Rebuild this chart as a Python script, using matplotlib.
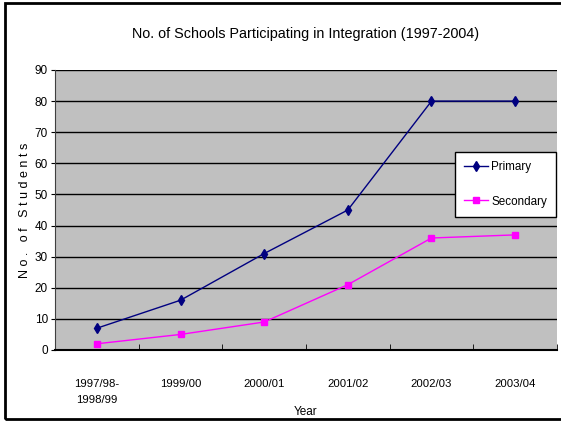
import matplotlib
matplotlib.use("Agg")
import matplotlib.pyplot as plt
from matplotlib import font_manager
from matplotlib.patches import Rectangle

categories = ["1997/98-\n1998/99", "1999/00", "2000/01", "2001/02", "2002/03", "2003/04"]
primary = [7, 16, 31, 45, 80, 80]
secondary = [2, 5, 9, 21, 36, 37]

names = {f.name for f in font_manager.fontManager.ttflist}
fam = "Liberation Sans Narrow" if "Liberation Sans Narrow" in names else "Liberation Sans"
plt.rcParams['font.family'] = [fam, 'DejaVu Sans']

fig = plt.figure(figsize=(5.61, 4.21), dpi=100)
ax = fig.add_axes([55/561, 1-350/421, 502/561, 280/421])
ax.set_facecolor("#C0C0C0")

x = list(range(len(categories)))
ax.plot(x, primary, color="#000080", marker="d", markersize=5.5, lw=1, label="Primary")
ax.plot(x, secondary, color="#FF00FF", marker="s", markersize=4.5, lw=1, label="Secondary")

ax.set_xlim(-0.5, len(categories) - 0.5)
ax.set_ylim(0, 90)
ax.set_yticks(range(0, 91, 10))
ax.yaxis.grid(True, color="black", lw=1)
ax.set_axisbelow(True)

ax.set_xticks(x)
ax.set_xticklabels(categories, fontsize=8.2, linespacing=1.7)
ax.set_xticks([i + 0.5 for i in range(-1, len(categories))], minor=True)
ax.tick_params(axis="x", which="major", length=0, pad=21)
ax.tick_params(axis="x", which="minor", direction="in", length=4, color="black")
ax.tick_params(axis="y", direction="out", length=3, labelsize=8.5, pad=2)

for s in ["top", "right"]:
    ax.spines[s].set_visible(False)
ax.spines["left"].set_color("#404040")
ax.spines["bottom"].set_color("black")
ax.spines["bottom"].set_linewidth(1.5)

ax.set_title("No. of Schools Participating in Integration (1997-2004)", fontsize=10.4, pad=23)
ax.set_xlabel("Year", fontsize=8.5, labelpad=1)
ax.set_ylabel("N o .   o f   S t u d e n t s", fontsize=9, labelpad=3)

leg = ax.legend(loc="upper left", bbox_to_anchor=(455/561, 1-152/421), bbox_transform=fig.transFigure,
                borderaxespad=0, fontsize=8.4,
                frameon=True, fancybox=False, edgecolor="black", framealpha=1,
                handlelength=2.0, borderpad=0.8, labelspacing=1.9, handletextpad=0.3)
leg.get_frame().set_linewidth(1)

fig.patches.append(Rectangle((5/561, 2/421), 1.0, 416/421, transform=fig.transFigure,
                             fill=False, edgecolor="black", lw=2))

fig.savefig("out.png", dpi=100)
